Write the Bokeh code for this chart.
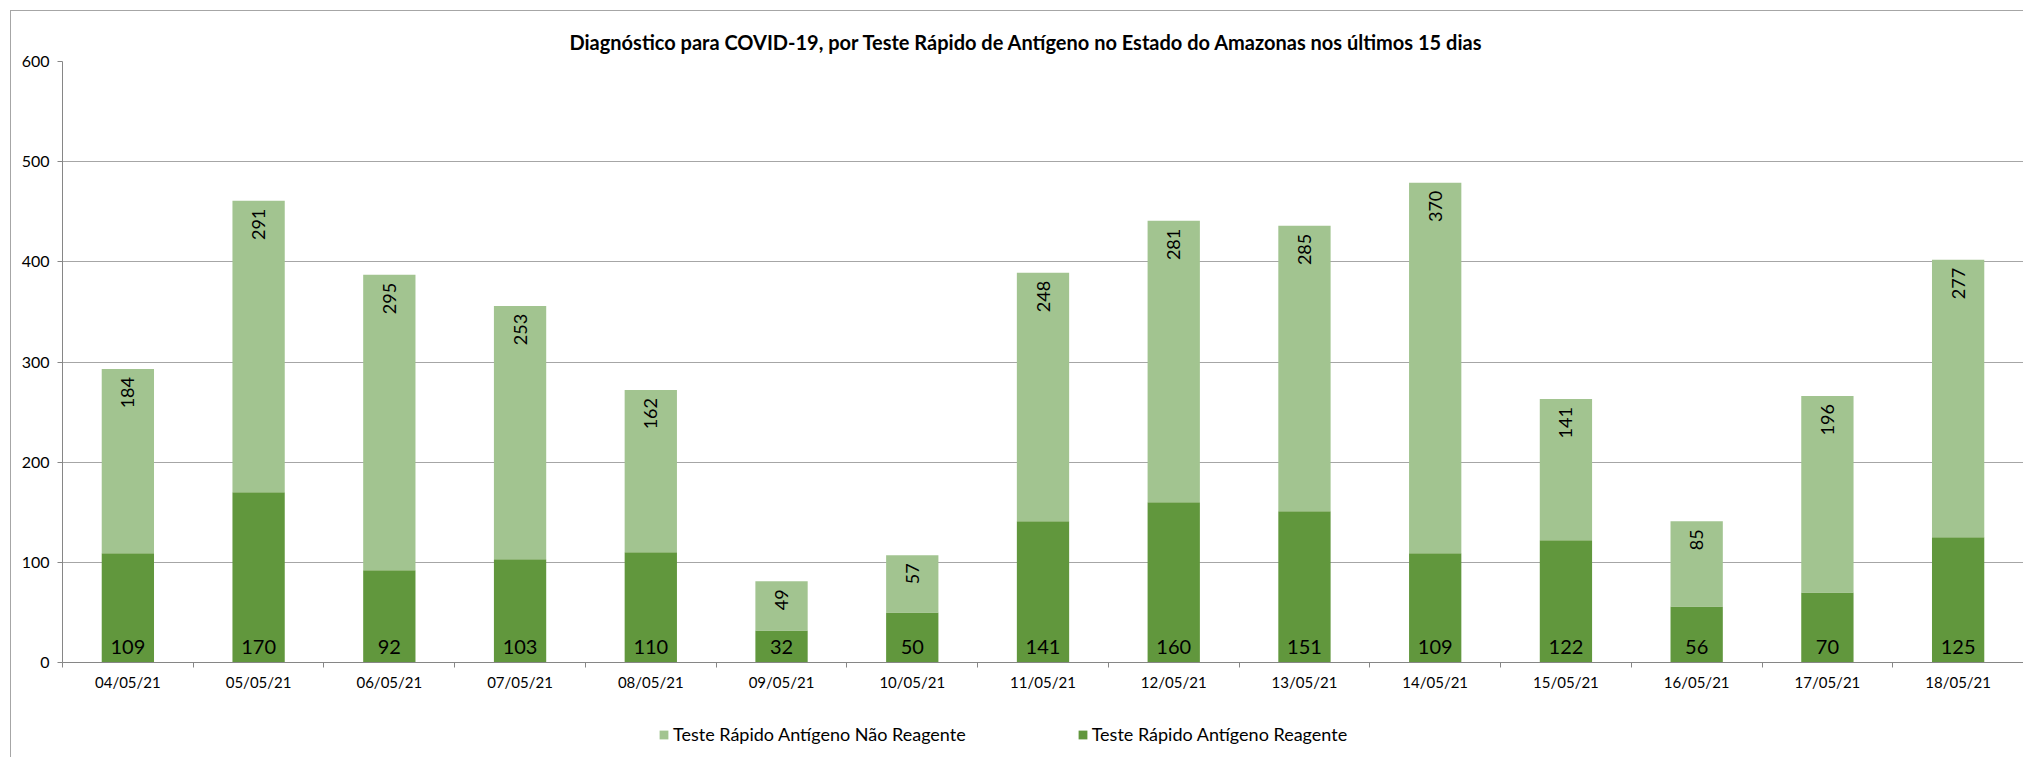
import math
from bokeh.plotting import figure
from bokeh.layouts import column
from bokeh.models import (ColumnDataSource, Range1d, FixedTicker, Legend, LegendItem)
from bokeh.core.properties import value
from bokeh.embed import file_html
from bokeh.resources import INLINE

dates = ["04/05/21", "05/05/21", "06/05/21", "07/05/21", "08/05/21", "09/05/21",
         "10/05/21", "11/05/21", "12/05/21", "13/05/21", "14/05/21", "15/05/21",
         "16/05/21", "17/05/21", "18/05/21"]
reagente = [109, 170, 92, 103, 110, 32, 50, 141, 160, 151, 109, 122, 56, 70, 125]
nao_reagente = [184, 291, 295, 253, 162, 49, 57, 248, 281, 285, 370, 141, 85, 196, 277]
y_ticks = [0, 100, 200, 300, 400, 500, 600]

TITLE = "Diagnóstico para COVID-19, por  Teste Rápido de Antígeno no Estado do Amazonas nos últimos 15 dias"
NAME_NAO = "Teste Rápido Antígeno Não Reagente"
NAME_REAG = "Teste Rápido Antígeno Reagente"

LIGHT = "#a2c490"
DARK = "#61973d"
FONT = "Lato"

xs = [i + 1 for i in range(len(dates))]
tops = [a + b for a, b in zip(reagente, nao_reagente)]
src = ColumnDataSource(dict(x=xs, reag=reagente, nao=nao_reagente, top=tops,
                            reag_txt=[str(v) for v in reagente],
                            nao_txt=[str(v) for v in nao_reagente],
                            zero=[0] * len(xs)))

p = figure(frame_width=1961, frame_height=601, output_backend="svg", toolbar_location=None,
           x_range=Range1d(0.5, len(xs) + 0.5), y_range=Range1d(y_ticks[0], y_ticks[-1]),
           min_border_left=51, min_border_top=50, min_border_bottom=40, min_border_right=0)

p.title.text = TITLE
p.title.text_font = FONT
p.title.text_font_size = "20px"
p.title.text_font_style = "bold"
p.title.align = "left"
p.title.offset = 507
p.title.standoff = 15
p.title.text_color = "#000000"

p.outline_line_color = None
p.background_fill_color = "white"
p.border_fill_color = "white"

rs = p.vbar_stack(["reag", "nao"], x="x", width=0.4, source=src,
                  color=[DARK, LIGHT], line_color=None)

# labels
p.text(x="x", y="zero", text="reag_txt", source=src, text_align="center",
       text_baseline="alphabetic", y_offset=-16, text_font=value(FONT),
       text_font_size="20px", text_color="#000000")
p.text(x="x", y="top", text="nao_txt", source=src, text_align="right",
       text_baseline="middle", angle=math.pi / 2, y_offset=8,
       text_font=value(FONT), text_font_size="18px", text_color="#000000")

# axes
p.xaxis.ticker = FixedTicker(ticks=xs, minor_ticks=[i + 0.5 for i in range(len(xs) + 1)])
p.xaxis.major_label_overrides = {x: d for x, d in zip(xs, dates)}
p.xaxis.major_tick_line_color = None
p.xaxis.major_tick_out = 0
p.xaxis.major_tick_in = 0
p.xaxis.minor_tick_out = 5
p.xaxis.minor_tick_in = 0
p.xaxis.minor_tick_line_color = "#868686"
p.xaxis.axis_line_color = "#868686"
p.xaxis.major_label_standoff = 5
p.xaxis.major_label_text_font = FONT
p.xaxis.major_label_text_font_size = "15px"
p.xaxis.major_label_text_color = "#000000"

p.yaxis.ticker = FixedTicker(ticks=y_ticks)
p.yaxis.minor_tick_line_color = None
p.yaxis.major_tick_out = 5
p.yaxis.major_tick_in = 0
p.yaxis.major_tick_line_color = "#868686"
p.yaxis.axis_line_color = "#868686"
p.yaxis.major_label_standoff = 8
p.yaxis.major_label_text_font = FONT
p.yaxis.major_label_text_font_size = "16px"
p.yaxis.major_label_text_color = "#000000"

p.xgrid.grid_line_color = None
p.ygrid.grid_line_color = "#a6a6a6"
p.ygrid.ticker = FixedTicker(ticks=y_ticks)

# legend strip below the chart
lf = figure(frame_width=1961, frame_height=55, output_backend="svg", toolbar_location=None,
            x_axis_type=None, y_axis_type=None, x_range=Range1d(0, 1), y_range=Range1d(0, 1),
            min_border_left=51, min_border_right=0, min_border_top=0, min_border_bottom=0,
            outline_line_color=None)
lf.xgrid.grid_line_color = None
lf.ygrid.grid_line_color = None
nan = float("nan")
d_nao = lf.vbar(x=[nan], top=[nan], width=0.1, color=LIGHT, line_color=None)
d_reag = lf.vbar(x=[nan], top=[nan], width=0.1, color=DARK, line_color=None)
legend = Legend(items=[LegendItem(label=NAME_NAO, renderers=[d_nao]),
                       LegendItem(label=NAME_REAG, renderers=[d_reag])],
                orientation="horizontal", location=(596, 12),
                label_text_font=FONT, label_text_font_size="18px",
                label_text_color="#000000",
                glyph_width=11, glyph_height=11, label_standoff=4,
                spacing=111, padding=0, margin=0,
                border_line_color=None, background_fill_alpha=0)
lf.add_layout(legend, "center")

layout = column(p, lf, spacing=0)
layout.styles = {"border-left": "1px solid #a6a6a6", "border-top": "1px solid #a6a6a6",
                 "margin-left": "10px", "margin-top": "10px"}
open("out.html", "w").write(file_html(layout, INLINE))
